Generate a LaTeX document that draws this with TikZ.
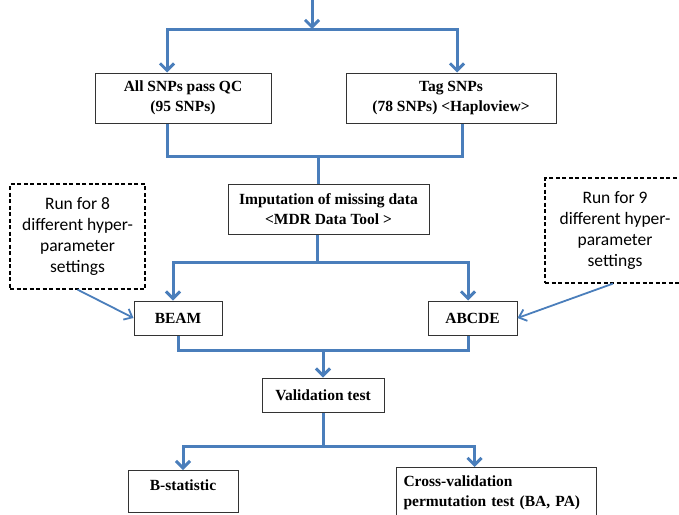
\documentclass[tikz,border=0pt]{standalone}
\usepackage{fontspec}
\setmainfont{Liberation Serif}
\newfontfamily\tnr{Liberation Serif}
\newfontfamily\calib{Carlito}
\usetikzlibrary{arrows.meta}
\definecolor{flowblue}{HTML}{4A7EBB}
\definecolor{boxline}{HTML}{333333}
\tikzset{
  box/.style={draw=boxline, line width=1pt, font=\tnr\bfseries\fontsize{15.5}{20}\selectfont, align=center, inner sep=0pt},
  notebox/.style={draw=black, line width=1.2pt, dash pattern=on 4pt off 2.5pt, font=\calib\fontsize{17.5}{21}\selectfont, align=center, inner sep=0pt},
  conn/.style={draw=flowblue, line width=3pt},
  arr/.style={conn, -{Straight Barb[length=7pt,width=14pt,line width=3pt]}},
  thinarr/.style={draw=flowblue, line width=1.8pt, -{Straight Barb[length=7pt,width=12pt,line width=1.8pt]}}
}
\begin{document}
\begin{tikzpicture}[x=1pt,y=-1pt]
\useasboundingbox (0,0) rectangle (679,514);
% boxes
\node[box, minimum width=176pt, minimum height=50pt] (b1) at (183,98) {All SNPs pass QC\\(95 SNPs)};
\node[box, minimum width=210pt, minimum height=50pt] (b2) at (451,98) {Tag SNPs\\(78 SNPs) <Haploview>};
\node[box, minimum width=201pt, minimum height=50pt] (imp) at (328.5,209) {Imputation of missing data\\<MDR Data Tool >};
\node[box, minimum width=88pt, minimum height=34pt] (beam) at (178,318) {BEAM};
\node[box, minimum width=89pt, minimum height=34pt] (abcde) at (472.5,318) {ABCDE};
\node[box, minimum width=122pt, minimum height=34pt] (val) at (323,395) {Validation test};
\node[box, anchor=north, minimum width=110pt, text height=20pt, text depth=22pt] (bstat) at (183,470) {B-statistic};
\node[box, anchor=north west, text width=186pt, inner xsep=7pt, align=left, minimum height=50pt] (cross) at (396,467) {Cross-validation\\permutation test (BA, PA)};
\node[notebox, minimum width=135pt, minimum height=105pt] (noteL) at (77.5,236.5) {Run for 8\\different hyper-\\parameter\\settings};
\node[notebox, minimum width=140pt, minimum height=105pt] (noteR) at (615,230.5) {Run for 9\\different hyper-\\parameter\\settings};
% coordinates
\coordinate (top) at (312,0);
\coordinate (split1) at (312,29);
\coordinate (merge1) at (318,156);
\coordinate (split2) at (317,262);
\coordinate (merge2) at (323,350);
\coordinate (split3) at (323,446);
% connectors
\draw[arr] (top) -- (split1);
\draw[arr] (split1) -| ([xshift=-16pt]b1.north);
\draw[arr] (split1) -| ([xshift=6pt]b2.north);
\draw[conn] ([xshift=-16pt]b1.south) |- (merge1) -| ([xshift=11pt]b2.south);
\draw[conn] (merge1) -- (merge1 |- imp.north);
\draw[conn] (split2 |- imp.south) -- (split2);
\draw[arr] (split2) -| ([xshift=-5pt]beam.north);
\draw[arr] (split2) -| ([xshift=-4.5pt]abcde.north);
\draw[conn] (beam.south) |- (merge2) -| ([xshift=-4.5pt]abcde.south);
\draw[arr] (merge2) -- (val.north);
\draw[conn] (val.south) -- (split3);
\draw[arr] (split3) -| (bstat.north);
\draw[arr] (split3) -| ([xshift=-22pt]cross.north);
\draw[thinarr] (noteL.south) -- (beam.west);
\draw[thinarr] ([xshift=-2pt]noteR.south) -- (abcde.east);
\end{tikzpicture}
\end{document}
